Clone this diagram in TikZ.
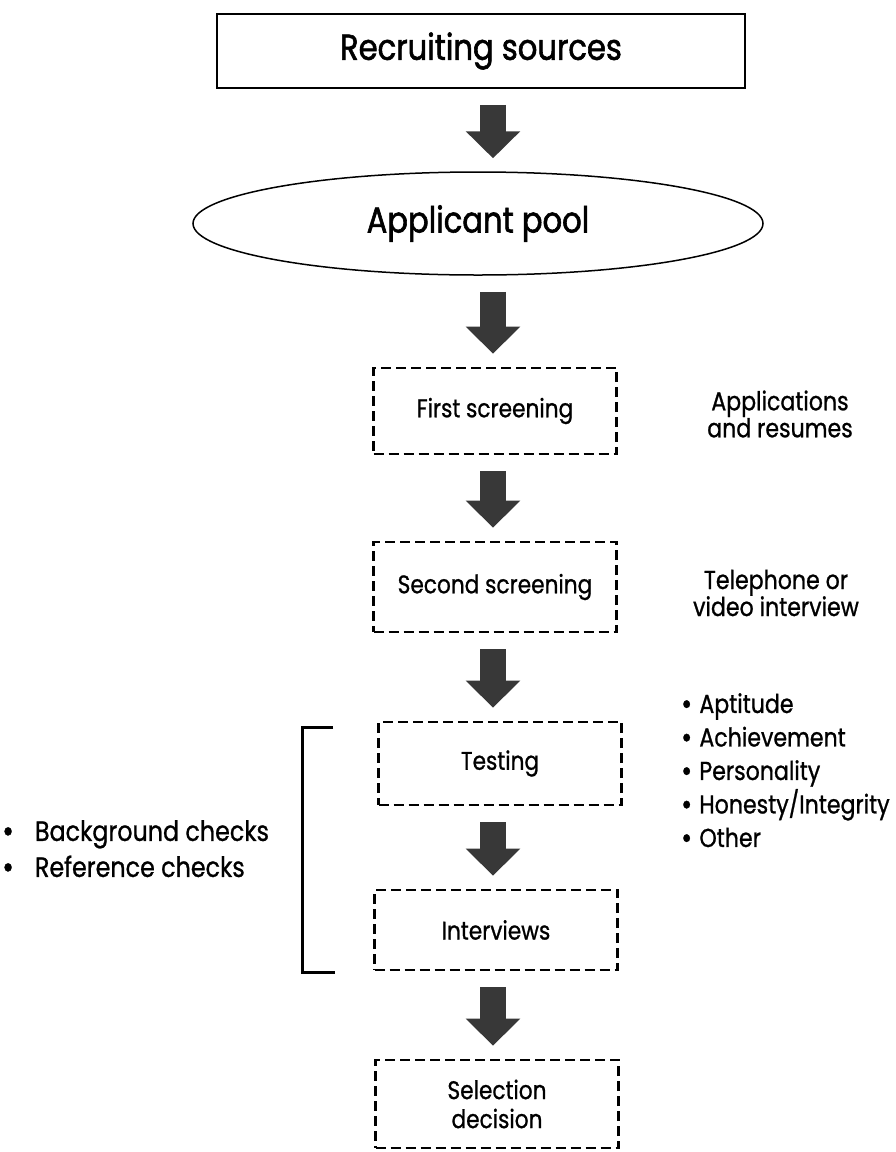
\documentclass[tikz,border=0pt]{standalone}
\usepackage{fontspec}
\setmainfont{Poppins}[FakeStretch=0.85, FakeBold=0.9]
\newfontfamily\headfont{Poppins}[FakeStretch=0.85, FakeBold=1.6]
\usetikzlibrary{arrows.meta,shapes.geometric,calc}
\definecolor{arrowgray}{gray}{0.22}
\tikzset{
  bigarrow/.style={draw=arrowgray, line width=26pt, shorten <=16pt, shorten >=13pt,
    -{Triangle[width=53pt,length=27pt]}},
  stagebox/.style={draw, dashed, line width=2.7pt, dash pattern=on 10pt off 5pt,
    minimum width=243pt, minimum height=86pt, inner sep=0pt, align=center,
    font=\fontsize{25.5}{29}\selectfont},
  headbox/.style={draw, line width=1.5pt, inner sep=0pt,
    font=\headfont\fontsize{36}{40}\selectfont},
  sidetext/.style={align=center, font=\fontsize{26}{27}\selectfont},
  listtext/.style={align=left, font=\fontsize{26}{33.5}\selectfont, inner sep=0pt},
}
\newcommand{\bul}{\raisebox{-0.06em}{\scalebox{1.2}{•}}\hspace{0.28em}}
\newcommand{\bulw}{\raisebox{-0.06em}{\scalebox{1.2}{•}}\hspace{0.75em}}
\begin{document}
\begin{tikzpicture}[x=1pt,y=-1pt]
\useasboundingbox (0,0) rectangle (895,1152);
\coordinate (ax) at (493,0);
\node[headbox, minimum width=528pt, minimum height=74pt] (src) at (481,51) {Recruiting sources};
\node[headbox, ellipse, minimum width=570pt, minimum height=103pt] (pool) at (478,223.5) {Applicant pool};
\node[stagebox] (first) at (495,411) {First screening};
\node[stagebox, minimum height=90pt] (second) at (495,587) {Second screening};
\node[stagebox, minimum height=83pt] (test) at (500,763.5) {Testing};
\node[stagebox, minimum height=80pt] (inter) at (496,930) {Interviews};
\node[stagebox, minimum height=88pt] (sel) at (497,1104) {Selection\\decision};
\node[sidetext] (apps) at (780,414) {Applications\\and resumes};
\node[sidetext] (tel) at (776,593) {Telephone or\\video interview};
\node[listtext, anchor=north west] (tests) at (681,693) {\bul Aptitude\\\bul Achievement\\\bul Personality\\\bul Honesty/Integrity\\\bul Other};
\node[listtext, anchor=north west, font=\fontsize{28}{36}\selectfont] (checks) at (2,820) {\bulw Background checks\\\bulw Reference checks};
\draw[line width=3pt] (333,727) coordinate (bt) -| (302,972) coordinate (bb) -- (335,972);
\draw[bigarrow] (src.south -| ax) -- (pool.north -| ax);
\draw[bigarrow] (pool.south -| ax) -- (first.north -| ax);
\draw[bigarrow] (first.south -| ax) -- (second.north -| ax);
\draw[bigarrow] (second.south -| ax) -- (test.north -| ax);
\draw[bigarrow] (test.south -| ax) -- (inter.north -| ax);
\draw[bigarrow] (inter.south -| ax) -- (sel.north -| ax);
\end{tikzpicture}
\end{document}
